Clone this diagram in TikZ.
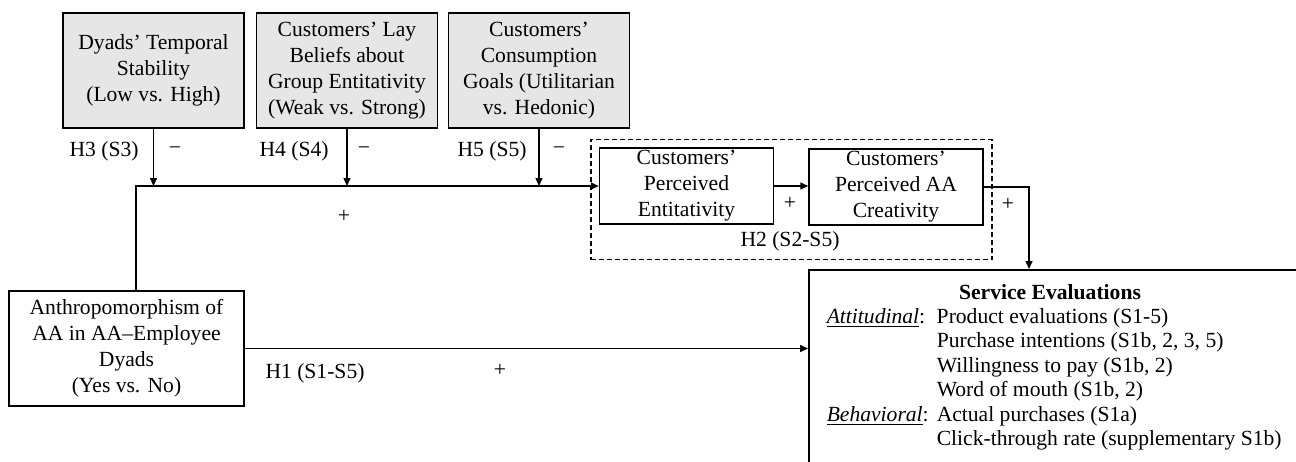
\documentclass[tikz,border=0pt]{standalone}
\usepackage{fontspec}
\setmainfont{Liberation Serif}
\usetikzlibrary{arrows.meta,fit}
\definecolor{modgray}{HTML}{E6E6E6}

\begin{document}
\begin{tikzpicture}[x=.5pt,y=.5pt,line width=.75pt,
  >={Triangle[length=4pt,width=3.5pt]},
  font=\fontsize{10.8}{13}\selectfont,
  modbox/.style={draw,fill=modgray,align=center,inner sep=1pt,
    minimum width=90.5pt,minimum height=57.5pt},
  medbox/.style={draw,align=center,inner sep=1pt,
    minimum width=87pt,minimum height=38pt},
  groupbox/.style={draw,dash pattern=on 2.5pt off 1.5pt,inner sep=4pt}]
  \useasboundingbox (0,0) rectangle (1296,-461);
  \clip (0,0) rectangle (1296,-461);
  % moderators
  \node[modbox] (temp) at (153.5,-70.5) {Dyads’ Temporal\\Stability\\(Low vs. High)};
  \node[modbox] (lay) at (347,-70.5) {Customers’ Lay\\Beliefs about\\Group Entitativity\\(Weak vs. Strong)};
  \node[modbox] (goal) at (539,-70.5) {Customers’\\Consumption\\Goals (Utilitarian\\vs. Hedonic)};
  % independent variable
  \node[draw,align=center,inner sep=1pt,minimum width=117.5pt,minimum height=57.5pt] (anthro) at (126.5,-348.5) {Anthropomorphism of\\AA in AA–Employee\\Dyads\\(Yes vs. No)};
  % mediators
  \node[medbox] (ent) at (686.5,-186) {Customers’\\Perceived\\Entitativity};
  \node[medbox] (cre) at (896,-187) {Customers’\\Perceived AA\\Creativity};
  \node[inner sep=0pt] (h2) at (790,-241) {H2 (S2-S5)};
  \node[groupbox,fit=(ent)(cre)(h2)] (grp) {};
  % outcomes
  \node[draw,anchor=north west,minimum width=260pt,minimum height=120pt] (eval) at (808,-269) {};
  \node[font=\fontsize{10.8}{13}\selectfont\bfseries] (evaltitle) at (1050,-292) {Service Evaluations};
  \node[anchor=base west,inner sep=0pt,font=\fontsize{10.8}{12.25}\selectfont] (evallist) at (826,-323) {%
    \begin{tabular}[t]{@{}l@{}l@{}}
      \makebox[55pt][l]{\underline{\textit{Attitudinal}}:} & Product evaluations (S1-5)\\
       & Purchase intentions (S1b, 2, 3, 5)\\
       & Willingness to pay (S1b, 2)\\
       & Word of mouth (S1b, 2)\\
      \makebox[55pt][l]{\underline{\textit{Behavioral}}:} & Actual purchases (S1a)\\
       & Click-through rate (supplementary S1b)
    \end{tabular}};
  % path labels
  \node[left] (h3) at (146,-151) {H3 (S3)};
  \node (m3) at (175,-151) {−};
  \node[left] (h4) at (336,-151) {H4 (S4)};
  \node (m4) at (364,-151) {−};
  \node[left] (h5) at (534,-151) {H5 (S5)};
  \node (m5) at (559,-151) {−};
  \node (p0) at (344,-216) {+};
  \node (p1) at (790,-203) {+};
  \node (p2) at (1008,-204) {+};
  \node (h1) at (315,-373) {H1 (S1-S5)};
  \node (p3) at (500,-370) {+};
  % connectors
  \coordinate (split) at (136,-186);
  \coordinate (drop) at (1029,-187);
  \draw[->] (anthro.north -| split) -- (split) -- (ent.west);
  \foreach \m in {temp,lay,goal}
    \draw[->] (\m.south) -- (\m.south |- split);
  \draw[->] (ent.east) -- (ent.east -| cre.west);
  \draw[->] (cre.east) -- (drop) -- (drop |- eval.north);
  \draw[->] (anthro.east) -- (anthro.east -| eval.west);
\end{tikzpicture}
\end{document}
